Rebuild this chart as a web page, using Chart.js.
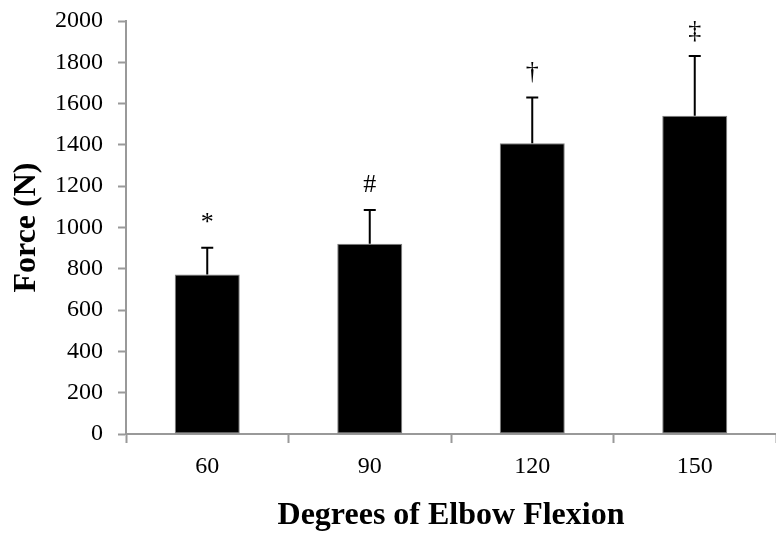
<!DOCTYPE html>
<html>
<head>
<meta charset="utf-8">
<script src="https://cdn.jsdelivr.net/npm/chart.js@4"></script>
<style>
  html, body { margin: 0; padding: 0; background: #ffffff; }
  #wrap { width: 776px; height: 535px; position: relative; }
</style>
</head>
<body>
<div id="wrap"><canvas id="forceChart"></canvas></div>
<script>
const angles = ['60', '90', '120', '150'];
const meanForce = [773, 921, 1408, 1541];
const sdForce = [129, 164, 222, 289];
const sigMarks = ['*', '#', '\u2020', '\u2021'];
const yTicks = [0, 200, 400, 600, 800, 1000, 1200, 1400, 1600, 1800, 2000];

const axisColor = '#999999';
const serif = "'Liberation Serif', 'Times New Roman', serif";

// error bars and significance marks, drawn through the chart's own scales
const errorBarPlugin = {
    id: 'errorBars',
    afterDatasetsDraw: function (chart) {
        const ctx = chart.ctx;
        const yScale = chart.scales.y;
        const meta = chart.getDatasetMeta(0);
        ctx.save();
        meta.data.forEach(function (bar, i) {
            const x = bar.x;
            const yTop = yScale.getPixelForValue(meanForce[i]);
            const yErr = yScale.getPixelForValue(meanForce[i] + sdForce[i]);
            ctx.strokeStyle = '#000000';
            ctx.lineWidth = 2;
            ctx.beginPath();
            ctx.moveTo(x, yTop);
            ctx.lineTo(x, yErr);
            ctx.moveTo(x - 6, yErr);
            ctx.lineTo(x + 6, yErr);
            ctx.stroke();

            ctx.fillStyle = '#000000';
            ctx.font = '26px ' + serif;
            ctx.textAlign = 'center';
            ctx.textBaseline = 'alphabetic';
            ctx.fillText(sigMarks[i], x, yErr - 18);
        });
        ctx.restore();
    }
};

const ctx = document.getElementById('forceChart').getContext('2d');
const forceChart = new Chart(ctx, {
    type: 'bar',
    data: {
        labels: angles,
        datasets: [{
            data: meanForce,
            backgroundColor: '#000000',
            borderColor: '#808080',
            borderWidth: 1,
            borderSkipped: false,
            categoryPercentage: 1.0,
            barPercentage: 0.40
        }]
    },
    options: {
        responsive: true,
        maintainAspectRatio: false,
        animation: false,
        layout: {
            padding: { top: 21, right: 0, bottom: 0, left: 0 }
        },
        plugins: {
            legend: { display: false },
            tooltip: { enabled: false }
        },
        scales: {
            x: {
                offset: true,
                grid: {
                    offset: true,
                    drawOnChartArea: false,
                    drawTicks: true,
                    tickLength: 9,
                    tickWidth: 2,
                    tickColor: axisColor
                },
                border: { color: axisColor, width: 2 },
                ticks: {
                    color: '#000000',
                    font: { family: serif, size: 24 },
                    padding: 9
                },
                title: {
                    display: true,
                    text: 'Degrees of Elbow Flexion',
                    color: '#000000',
                    font: { family: serif, size: 32, weight: 'bold' },
                    padding: { top: 0, bottom: 0 }
                },
                afterFit: function (scale) {
                    scale.height = 535 - 434;
                }
            },
            y: {
                min: 0,
                max: 2000,
                afterBuildTicks: function (scale) {
                    scale.ticks = yTicks.map(v => ({ value: v }));
                },
                grid: {
                    drawOnChartArea: false,
                    drawTicks: true,
                    tickLength: 8,
                    tickWidth: 2,
                    tickColor: axisColor
                },
                border: { color: axisColor, width: 2 },
                ticks: {
                    color: '#000000',
                    font: { family: serif, size: 24 },
                    padding: 15,
                    callback: function (value) {
                        return String(value);
                    }
                },
                title: {
                    display: true,
                    text: 'Force (N)',
                    color: '#000000',
                    font: { family: serif, size: 32, weight: 'bold' },
                    padding: { top: 8, bottom: 0 }
                },
                afterFit: function (scale) {
                    scale.width = 126;
                    scale.paddingTop = 0;
                    scale.paddingBottom = 0;
                }
            }
        }
    },
    plugins: [errorBarPlugin]
});
</script>
</body>
</html>
